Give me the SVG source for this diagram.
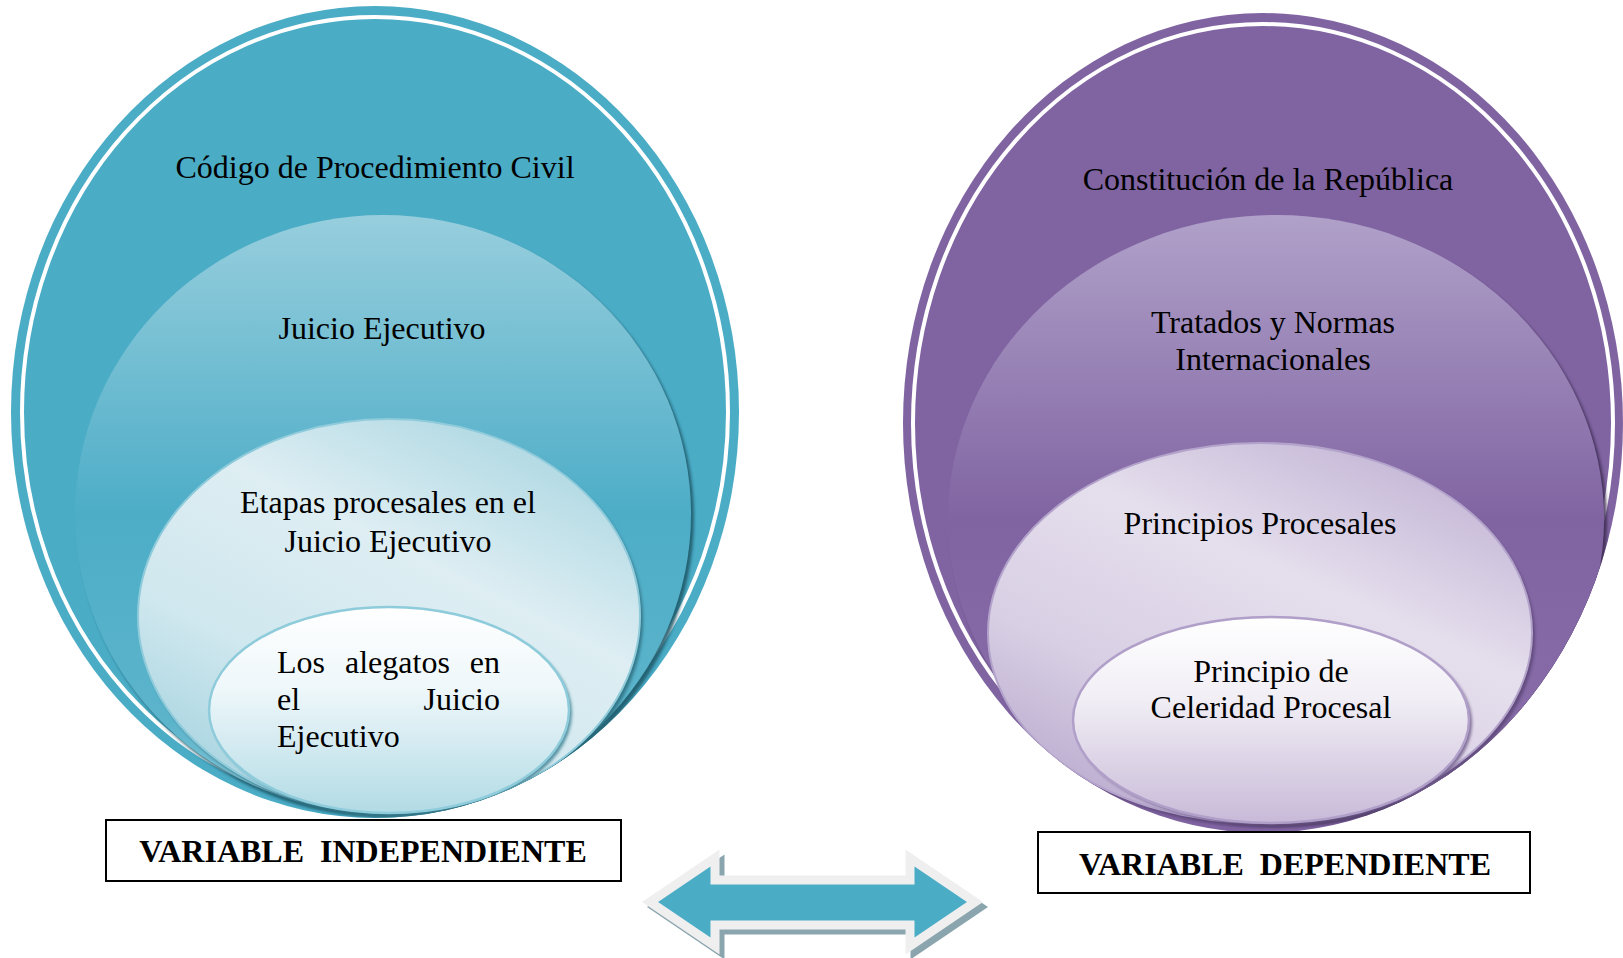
<svg xmlns="http://www.w3.org/2000/svg" width="1623" height="958" viewBox="0 0 1623 958">
<style>
.t{font-family:"Liberation Serif","Times New Roman",serif;font-size:32px;fill:#000}
.c{text-anchor:middle}
.e{text-anchor:end}
.lbl{font-family:"Liberation Serif","Times New Roman",serif;font-size:32px;font-weight:bold;fill:#000;text-anchor:middle;white-space:pre}
.box{fill:#fff;stroke:#000;stroke-width:2}
.ring{fill:none;stroke:#fff;stroke-width:4}
</style>
<defs>
<filter id="blur" x="-10%" y="-10%" width="120%" height="120%"><feGaussianBlur stdDeviation="1.5"/></filter>
<clipPath id="clipL"><ellipse cx="375" cy="412" rx="364" ry="406"/></clipPath>
<clipPath id="clipR"><ellipse cx="1263" cy="423" rx="360" ry="410"/></clipPath>
<linearGradient id="gL2" x1="0" y1="0" x2="0" y2="1">
<stop offset="0" stop-color="#97cedd"/><stop offset="0.5" stop-color="#4dadc7"/><stop offset="0.85" stop-color="#5cb4cb"/><stop offset="1" stop-color="#8fcbda"/>
</linearGradient>
<linearGradient id="gL3" x1="0.85" y1="0" x2="0.2" y2="1">
<stop offset="0" stop-color="#a6d4e0"/><stop offset="0.38" stop-color="#deeef3"/><stop offset="0.7" stop-color="#cfe7ee"/><stop offset="1" stop-color="#a3d2df"/>
</linearGradient>
<linearGradient id="gL4" x1="0" y1="0" x2="0" y2="1">
<stop offset="0" stop-color="#ffffff"/><stop offset="0.4" stop-color="#eef7fa"/><stop offset="1" stop-color="#b2dbe5"/>
</linearGradient>
<linearGradient id="gR2" x1="0" y1="0" x2="0" y2="1">
<stop offset="0" stop-color="#b0a1c9"/><stop offset="0.5" stop-color="#8064a2"/><stop offset="0.85" stop-color="#876ca8"/><stop offset="1" stop-color="#a592c1"/>
</linearGradient>
<linearGradient id="gR3" x1="0.85" y1="0" x2="0.2" y2="1">
<stop offset="0" stop-color="#bfb0d3"/><stop offset="0.38" stop-color="#e5dfed"/><stop offset="0.7" stop-color="#d8cfe4"/><stop offset="1" stop-color="#b8a8cd"/>
</linearGradient>
<linearGradient id="gR4" x1="0" y1="0" x2="0" y2="1">
<stop offset="0" stop-color="#ffffff"/><stop offset="0.4" stop-color="#f1eef5"/><stop offset="1" stop-color="#c8bad8"/>
</linearGradient>
</defs>

<g id="left-outer">
<ellipse cx="375" cy="412" rx="364" ry="406" fill="#4bacc6"/>
<ellipse class="ring" cx="375" cy="412" rx="353" ry="395"/>
<text class="t c" x="375" y="178">Código de Procedimiento Civil</text>
</g>
<g clip-path="url(#clipL)">
<g id="left-level2">
<ellipse cx="386" cy="518" rx="308" ry="299" fill="#1f5666" opacity="0.85" filter="url(#blur)"/>
<ellipse cx="383" cy="514" rx="308" ry="299" fill="url(#gL2)"/>
<text class="t c" x="382" y="339">Juicio Ejecutivo</text>
</g>
<g id="left-level3">
<ellipse cx="392" cy="620" rx="251" ry="197" fill="#2a6a7b" opacity="0.8" filter="url(#blur)"/>
<ellipse cx="389" cy="616" rx="251" ry="197" fill="url(#gL3)" stroke="#8fcbdb" stroke-width="2"/>
<text class="t c" x="388" y="513">Etapas procesales en el</text>
<text class="t c" x="388" y="552">Juicio Ejecutivo</text>
</g>
<g id="left-level4">
<ellipse cx="392" cy="713" rx="180" ry="103" fill="#3a7e90" opacity="0.8" filter="url(#blur)"/>
<ellipse cx="389" cy="710" rx="180" ry="103" fill="url(#gL4)" stroke="#8ecbdb" stroke-width="2.5"/>
<text class="t" x="277" y="673">Los</text>
<text class="t" x="345" y="673">alegatos</text>
<text class="t e" x="500" y="673">en</text>
<text class="t" x="277" y="710">el</text>
<text class="t e" x="500" y="710">Juicio</text>
<text class="t" x="277" y="747">Ejecutivo</text>
</g>
</g>

<g id="right-outer">
<ellipse cx="1263" cy="423" rx="360" ry="410" fill="#8064a2"/>
<ellipse class="ring" cx="1263" cy="423" rx="350" ry="399"/>
<text class="t c" x="1268" y="190">Constitución de la República</text>
</g>
<g clip-path="url(#clipR)">
<g id="right-level2">
<ellipse cx="1279" cy="523" rx="328" ry="304" fill="#3b2b50" opacity="0.85" filter="url(#blur)"/>
<ellipse cx="1276" cy="519" rx="328" ry="304" fill="url(#gR2)"/>
<text class="t c" x="1273" y="333">Tratados y Normas</text>
<text class="t c" x="1273" y="370">Internacionales</text>
</g>
<g id="right-level3">
<ellipse cx="1263" cy="637" rx="272" ry="190" fill="#5a4574" opacity="0.8" filter="url(#blur)"/>
<ellipse cx="1260" cy="633" rx="272" ry="190" fill="url(#gR3)" stroke="#b3a3cb" stroke-width="2"/>
<text class="t c" x="1260" y="534">Principios Procesales</text>
</g>
<g id="right-level4">
<ellipse cx="1274" cy="723" rx="198" ry="103" fill="#6a5785" opacity="0.8" filter="url(#blur)"/>
<ellipse cx="1271" cy="720" rx="198" ry="103" fill="url(#gR4)" stroke="#b09fc8" stroke-width="2.5"/>
<text class="t c" x="1271" y="682">Principio de</text>
<text class="t c" x="1271" y="718">Celeridad Procesal</text>
</g>
</g>

<g id="label-independiente">
<rect class="box" x="106" y="820" width="515" height="61"/>
<text class="lbl" x="363" y="862">VARIABLE  INDEPENDIENTE</text>
</g>
<g id="label-dependiente">
<rect class="box" x="1038" y="832" width="492" height="61"/>
<text class="lbl" x="1285" y="875">VARIABLE  DEPENDIENTE</text>
</g>

<g id="connectors">
<polygon points="650,902 715,858 715,880 910,880 910,858 975,902 910,946 910,925 715,925 715,946" transform="translate(5,5)" fill="#8ba5af" stroke="#8ba5af" stroke-width="9" stroke-linejoin="miter"/>
<polygon points="650,902 715,858 715,880 910,880 910,858 975,902 910,946 910,925 715,925 715,946" fill="#4bacc6" stroke="#efefef" stroke-width="9" stroke-linejoin="miter"/>
</g>
</svg>
